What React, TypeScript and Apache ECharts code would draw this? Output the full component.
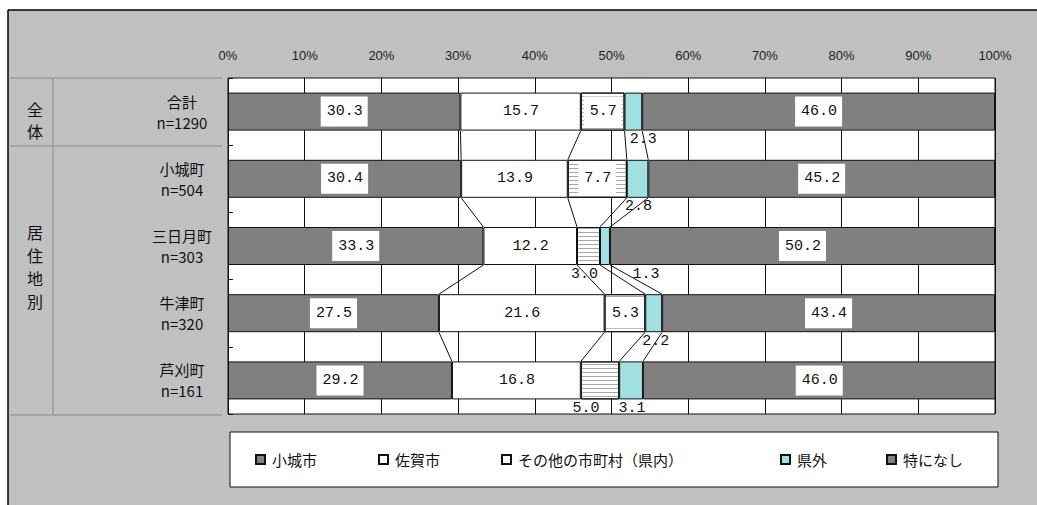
import React, { useEffect, useRef } from "react";
import * as echarts from "echarts";

// ---- data ----
const categories = ["合計\nn=1290", "小城町\nn=504", "三日月町\nn=303", "牛津町\nn=320", "芦刈町\nn=161"];
const seriesNames = ["小城市", "佐賀市", "その他の市町村（県内）", "県外", "特になし"];
const ogiCity = [30.3, 30.4, 33.3, 27.5, 29.2];
const sagaCity = [15.7, 13.9, 12.2, 21.6, 16.8];
const otherInPref = [5.7, 7.7, 3.0, 5.3, 5.0];
const outsidePref = [2.3, 2.8, 1.3, 2.2, 3.1];
const noneParticular = [46.0, 45.2, 50.2, 43.4, 46.0];
const groupAll = ["全", "体"];
const groupResidence = ["居", "住", "地", "別"];
const xMin = 0;
const xMax = 100;
const xInterval = 10;

const seriesValues = [ogiCity, sagaCity, otherInPref, outsidePref, noneParticular];

// ---- styles ----
const BAR_H = 38;
const colors = ["#808080", "#ffffff", "#ffffff", "#a0e0e0", "#808080"];
// labels drawn below the bar (seriesIndex-categoryIndex -> x offset px)
const belowLabels: Record<string, number> = {
  "3-0": 10,
  "3-1": 1,
  "2-2": -4,
  "3-2": 41,
  "3-3": 2,
  "2-4": -14,
  "3-4": 1,
};
const legendLeft = [255, 378, 501, 780, 886];

export default function App() {
  const ref = useRef<HTMLDivElement>(null);
  useEffect(() => {
    if (!ref.current) return;
    const chart = echarts.init(ref.current, undefined, { renderer: "svg" });

    const labelFont = "'Liberation Mono', 'DejaVu Sans Mono', monospace";
    const jpFont = "'Noto Sans CJK JP', sans-serif";

    const barSeries = seriesValues.map((vals, s) => ({
      type: "bar",
      name: seriesNames[s],
      stack: "total",
      barWidth: BAR_H,
      z: 2,
      itemStyle: {
        color: colors[s],
        borderColor: "#111",
        borderWidth: 1,
        ...(s === 2
          ? {
              decal: {
                symbol: "rect",
                symbolSize: 1,
                dashArrayX: [1, 0],
                dashArrayY: [1, 3],
                rotation: 0,
                color: "#a8a8a8",
              },
            }
          : {}),
      },
      label: {
        show: true,
        position: "inside",
        formatter: (p: any) => Number(p.value).toFixed(1),
        fontFamily: labelFont,
        fontSize: 15,
        color: "#111",
        backgroundColor: "#ffffff",
        padding: [6, 5, 6, 6],
        lineHeight: 18,
      },
      emphasis: { disabled: true },
      data: vals.map((v, c) => {
        const key = `${s}-${c}`;
        if (key in belowLabels) {
          return {
            value: v,
            label: {
              position: "bottom",
              distance: 0,
              offset: [belowLabels[key], 0],
              backgroundColor: "transparent",
              padding: 0,
            },
          };
        }
        return v;
      }),
    }));

    // cumulative boundaries for series lines
    const cum = categories.map((_, c) => {
      const arr: number[] = [];
      let acc = 0;
      for (let s = 0; s < seriesValues.length - 1; s++) {
        acc += seriesValues[s][c];
        arr.push(acc);
      }
      return arr;
    });
    const lineData: number[][] = [];
    for (let c = 0; c < categories.length - 1; c++) {
      for (let k = 0; k < cum[c].length; k++) {
        lineData.push([cum[c][k], c, cum[c + 1][k], c + 1]);
      }
    }

    const seriesLines = {
      type: "custom",
      name: "seriesLines",
      z: 5,
      silent: true,
      encode: { x: [0, 2], y: [1, 3] },
      renderItem: (_p: any, api: any) => {
        const p1 = api.coord([api.value(0), api.value(1)]);
        const p2 = api.coord([api.value(2), api.value(3)]);
        return {
          type: "line",
          shape: { x1: p1[0], y1: p1[1] + BAR_H / 2, x2: p2[0], y2: p2[1] - BAR_H / 2 },
          style: { stroke: "#111", lineWidth: 1 },
        };
      },
      data: lineData,
    };

    const legends = seriesNames.map((n, i) => ({
      show: true,
      left: legendLeft[i],
      top: 452,
      padding: 0,
      icon: "rect",
      itemWidth: 9,
      itemHeight: 9,
      itemGap: 0,
      selectedMode: false,
      data: [i === 2 ? { name: n, itemStyle: { decal: "none" } } : n],
      textStyle: { fontFamily: jpFont, fontSize: 15, color: "#111", padding: [0, 0, 0, 2] },
    }));

    const gray = "#8a8a8a";
    const charTexts: any[] = [];
    groupAll.forEach((ch, i) => {
      charTexts.push({
        type: "text",
        z: -80,
        silent: true,
        x: 35,
        y: 109 + i * 22,
        style: { text: ch, fontFamily: jpFont, fontSize: 16, fill: "#111", align: "center", verticalAlign: "middle" },
      });
    });
    groupResidence.forEach((ch, i) => {
      charTexts.push({
        type: "text",
        z: -80,
        silent: true,
        x: 35,
        y: 232 + i * 23,
        style: { text: ch, fontFamily: jpFont, fontSize: 16, fill: "#111", align: "center", verticalAlign: "middle" },
      });
    });

    const option: any = {
      animation: false,
      backgroundColor: "#ffffff",
      textStyle: { fontFamily: jpFont },
      legend: legends,
      grid: {
        left: 228,
        right: 42,
        top: 78,
        bottom: 91,
        show: true,
        backgroundColor: "#ffffff",
        borderColor: "#111",
        borderWidth: 1,
      },
      xAxis: {
        type: "value",
        position: "top",
        min: xMin,
        max: xMax,
        interval: xInterval,
        axisLine: { show: false },
        axisTick: { show: false },
        axisLabel: {
          formatter: "{value}%",
          fontFamily: "'Liberation Sans', Arial, sans-serif",
          fontSize: 13,
          color: "#222",
          margin: 16,
        },
        splitLine: { show: true, lineStyle: { color: "#111", width: 1 } },
      },
      yAxis: {
        type: "category",
        data: categories,
        inverse: true,
        axisLine: { show: false },
        axisTick: { show: true, inside: true, length: 5, lineStyle: { color: "#111" } },
        axisLabel: {
          fontFamily: jpFont,
          fontSize: 15,
          lineHeight: 21,
          color: "#111",
          align: "center",
          margin: 46,
        },
        splitLine: { show: false },
      },
      graphic: [
        { type: "rect", z: -100, silent: true, shape: { x: 8, y: 10, width: 1029, height: 495 }, style: { fill: "#c0c0c0" } },
        { type: "line", z: -90, silent: true, shape: { x1: 8, y1: 10, x2: 1037, y2: 10 }, style: { stroke: "#000", lineWidth: 1.5 } },
        { type: "line", z: -90, silent: true, shape: { x1: 8, y1: 10, x2: 8, y2: 505 }, style: { stroke: "#000", lineWidth: 1.5 } },
        { type: "line", z: -90, silent: true, shape: { x1: 10, y1: 78, x2: 222, y2: 78 }, style: { stroke: gray, lineWidth: 1 } },
        { type: "line", z: -90, silent: true, shape: { x1: 10, y1: 146, x2: 222, y2: 146 }, style: { stroke: gray, lineWidth: 1 } },
        { type: "line", z: -90, silent: true, shape: { x1: 10, y1: 415, x2: 222, y2: 415 }, style: { stroke: gray, lineWidth: 1 } },
        { type: "line", z: -90, silent: true, shape: { x1: 53, y1: 78, x2: 53, y2: 415 }, style: { stroke: gray, lineWidth: 1 } },
        ...charTexts,
        { type: "rect", z: -80, silent: true, shape: { x: 230, y: 432, width: 768, height: 55 }, style: { fill: "#fff", stroke: "#111", lineWidth: 1 } },
      ],
      series: [...barSeries, seriesLines],
    };
    chart.setOption(option);
    return () => chart.dispose();
  }, []);

  return (
    <div
      ref={ref}
      style={{ position: "fixed", left: 0, top: 0, width: 1037, height: 505 }}
    />
  );
}
